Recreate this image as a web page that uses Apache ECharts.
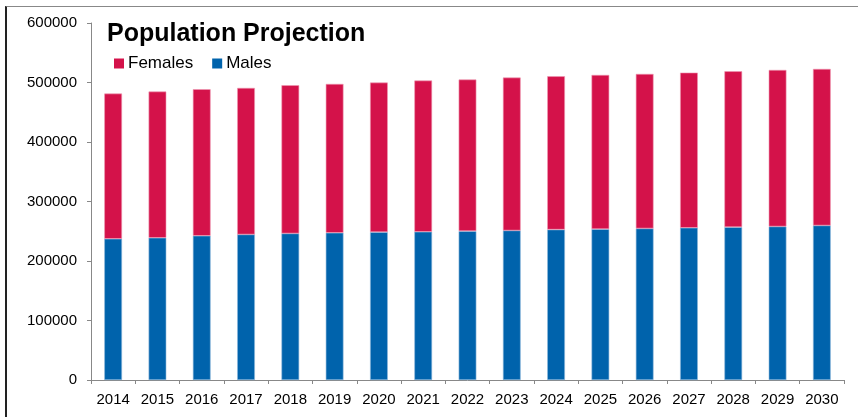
<!DOCTYPE html>
<html>
<head>
<meta charset="utf-8">
<script src="https://cdn.jsdelivr.net/npm/echarts@6/dist/echarts.min.js"></script>
<style>
  html, body { margin: 0; padding: 0; background: #fff; }
  .frame {
    position: absolute; left: 5px; top: 6px; width: 853px; height: 411px;
    border-left: 2px solid #222; border-top: 1px solid #888;
  }
  #chart { position: absolute; left: 0; top: 0; width: 858px; height: 417px; }
</style>
</head>
<body>
<div class="frame"></div>
<div id="chart"></div>
<script>
// years on the x axis
const years = ['2014', '2015', '2016', '2017', '2018', '2019', '2020', '2021', '2022',
  '2023', '2024', '2025', '2026', '2027', '2028', '2029', '2030']
const males = [237300, 239000, 242400, 244600, 246300, 247400, 248500, 249100, 250200,
  251300, 252800, 253600, 254700, 255800, 256900, 258000, 259700]
const females = [244100, 245800, 246300, 246300, 249100, 250200, 251400, 254200, 254800,
  257000, 257700, 259100, 259700, 260800, 262000, 263100, 263100]

const chart = echarts.init(document.getElementById('chart'))
const option = {
  animation: false,
  textStyle: { fontFamily: 'Liberation Sans, Arial, sans-serif' },
  title: {
    text: 'Population Projection',
    left: 102,
    top: 17,
    textStyle: { fontSize: 25, fontWeight: 'bold', color: '#000' }
  },
  legend: {
    data: ['Females', 'Males'],
    left: 109,
    top: 50,
    icon: 'rect',
    itemWidth: 10,
    itemHeight: 10,
    itemGap: 19,
    itemStyle: { borderWidth: 0 },
    textStyle: { fontSize: 17, color: '#000', padding: [0, 0, 0, -1] }
  },
  grid: { left: 91, top: 23, right: 14, bottom: 37 },
  xAxis: {
    type: 'category',
    data: years,
    axisLine: { lineStyle: { color: '#888' } },
    axisTick: { show: true, length: 4, lineStyle: { color: '#888' } },
    axisLabel: { fontSize: 15, color: '#000', margin: 12 }
  },
  yAxis: {
    type: 'value',
    min: 0,
    max: 600000,
    interval: 100000,
    axisLine: { show: true, lineStyle: { color: '#888' } },
    axisTick: { show: true, length: 4, lineStyle: { color: '#888' } },
    splitLine: { show: false },
    axisLabel: { fontSize: 15, color: '#000', margin: 14, formatter: v => String(v) }
  },
  series: [
    {
      name: 'Males',
      type: 'bar',
      stack: 'pop',
      barWidth: '40%',
      itemStyle: { color: '#0063AC', borderColor: '#8FB8DC', borderWidth: 0.6 },
      data: males
    },
    {
      name: 'Females',
      type: 'bar',
      stack: 'pop',
      barWidth: '40%',
      itemStyle: { color: '#D4124A', borderColor: '#EE98B2', borderWidth: 0.6 },
      data: females
    }
  ]
}
chart.setOption(option)
</script>
</body>
</html>
